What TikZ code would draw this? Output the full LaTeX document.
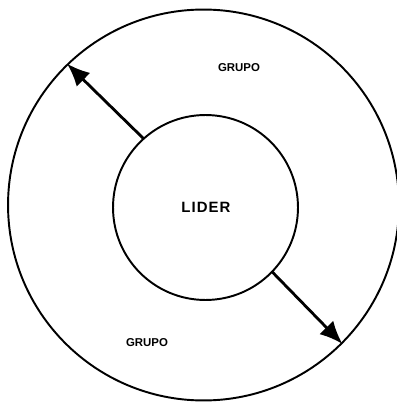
\documentclass[tikz,border=0pt]{standalone}
\usepackage{fontspec}
\setmainfont{Liberation Sans}
\usepackage{tikz}
\usetikzlibrary{arrows.meta}

\tikzset{
  ring/.style={draw=black, line width=1.1pt, circle, inner sep=0pt},
  pointer/.style={draw=black, line width=1.6pt, -{Latex[length=13pt,width=11pt]}, shorten <=-0.5pt}
}

\begin{document}
\begin{tikzpicture}[x=0.02cm, y=-0.02cm]

%
\useasboundingbox (0,0) rectangle (396,405);

%
\node[ring, minimum size=7.82cm] (grupo) at (203.5,205) {};
\node[ring, minimum size=3.7cm] (lider) at (205.5,207.5) {};

%
\node[font=\fontsize{8.5}{10}\selectfont\bfseries] (lidertxt) at (206,207) {L\kern0.6pt I\kern0.6pt D\kern0.6pt E\kern0.6pt R};

%
\node[font=\fontsize{6.5}{8}\selectfont\bfseries] (grupoa) at (239,67.5) {GRUPO};
\node[font=\fontsize{6.5}{8}\selectfont\bfseries] (grupob) at (147,343) {GRUPO};

%
\draw[pointer] (lider.132) -- (grupo.134.5);
\draw[pointer] (lider.-44) -- (grupo.-45);

\end{tikzpicture}
\end{document}
